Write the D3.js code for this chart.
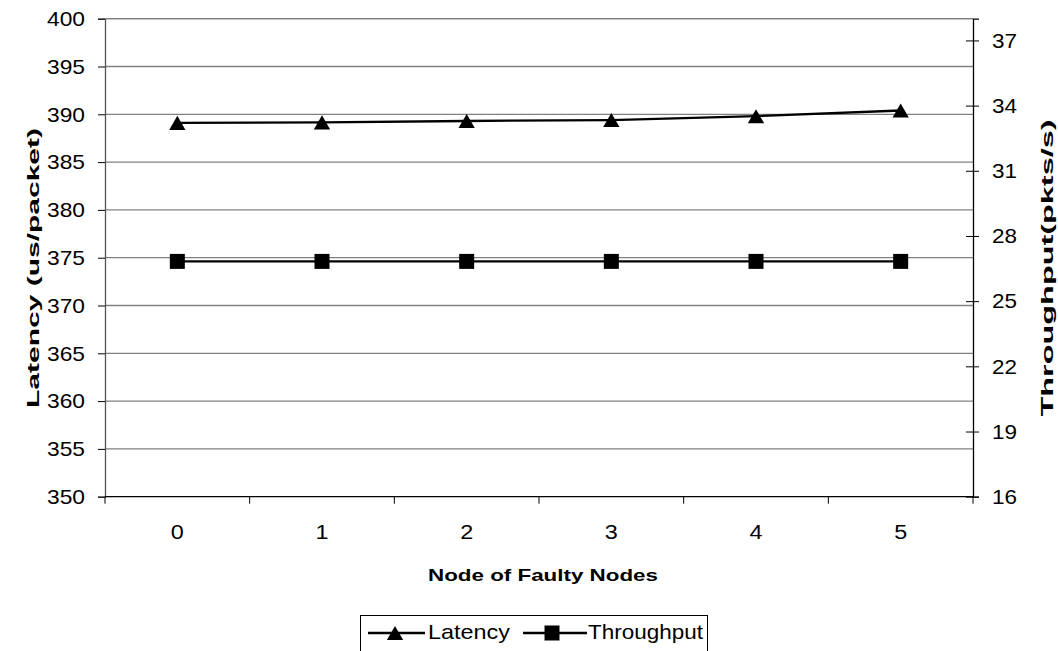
<!DOCTYPE html>
<html>
<head>
<meta charset="utf-8">
<script src="https://cdn.jsdelivr.net/npm/d3@7"></script>
<style>
  html, body { margin: 0; padding: 0; background: #fff; }
  svg { display: block; font-family: "Liberation Sans", Arial, sans-serif; }
</style>
</head>
<body>
<svg id="chart" width="1058" height="651"></svg>
<script>
// Number of faulty nodes on the x axis
const categories = ["0", "1", "2", "3", "4", "5"];
// Latency in us/packet (left axis)
const latency = [389.1, 389.15, 389.3, 389.4, 389.8, 390.4];
// Throughput in pkts/s (right axis)
const throughput = [26.83, 26.83, 26.83, 26.83, 26.83, 26.83];
// Axis tick values
const leftTicks = [350, 355, 360, 365, 370, 375, 380, 385, 390, 395, 400];
const rightTicks = [16, 19, 22, 25, 28, 31, 34, 37];

const FONT = "Liberation Sans, Arial, sans-serif";
const svg = d3.select("#chart");
const plot = { left: 105, right: 973, top: 18.7, bottom: 496.7 };

const x = d3.scaleBand().domain(categories).range([plot.left, plot.right]);
const yL = d3.scaleLinear().domain([350, 400]).range([plot.bottom, plot.top]);
const yR = d3.scaleLinear().domain([16, 38]).range([plot.bottom, plot.top]);

// horizontal gridlines
svg.append("g").selectAll("line").data(leftTicks.filter(d => d > 350)).join("line")
  .attr("x1", plot.left).attr("x2", plot.right)
  .attr("y1", d => yL(d)).attr("y2", d => yL(d))
  .attr("stroke", "#808080").attr("stroke-width", 1.3);

// left axis
const gL = svg.append("g").attr("transform", `translate(${plot.left},0)`)
  .call(d3.axisLeft(yL).tickValues(leftTicks).tickSize(7).tickPadding(13));
gL.select(".domain").attr("stroke", "#555").attr("stroke-width", 1.3);
gL.selectAll(".tick line").attr("stroke", "#000");
gL.selectAll("text").attr("font-size", 21).attr("fill", "#000").attr("font-family", FONT)
  .attr("textLength", 38).attr("lengthAdjust", "spacingAndGlyphs");

// right axis (ticks cross the axis line)
const gR = svg.append("g").attr("transform", `translate(${plot.right},0)`)
  .call(d3.axisRight(yR).tickValues(rightTicks).tickSize(6).tickPadding(13));
gR.select(".domain").attr("stroke", "#000").attr("stroke-width", 1.3);
gR.selectAll(".tick line").attr("x1", -7).attr("x2", 6).attr("stroke", "#000");
gR.selectAll("text").attr("font-size", 21).attr("fill", "#000").attr("font-family", FONT)
  .attr("textLength", 25).attr("lengthAdjust", "spacingAndGlyphs");

// bottom axis with ticks at category boundaries
const gB = svg.append("g").attr("transform", `translate(0,${plot.bottom})`);
gB.append("line").attr("x1", plot.left).attr("x2", plot.right)
  .attr("stroke", "#000").attr("stroke-width", 1.3);
const bounds = categories.map(c => x(c)).concat([x(categories[categories.length - 1]) + x.bandwidth()]);
gB.selectAll("line.tk").data(bounds).join("line").attr("class", "tk")
  .attr("x1", d => d).attr("x2", d => d).attr("y1", 0).attr("y2", 7)
  .attr("stroke", "#000");
gB.selectAll("text").data(categories).join("text")
  .attr("x", d => x(d) + x.bandwidth() / 2).attr("y", 42.5)
  .attr("text-anchor", "middle").attr("font-size", 20)
  .attr("textLength", 13).attr("lengthAdjust", "spacingAndGlyphs").text(d => d);

// top border
svg.append("line").attr("x1", plot.left).attr("x2", plot.right)
  .attr("y1", plot.top).attr("y2", plot.top).attr("stroke", "#808080").attr("stroke-width", 1.3);

const cx = d => x(d) + x.bandwidth() / 2;
const tri = d3.symbol().type(d3.symbolTriangle).size(115);
const triShift = Math.sqrt(115 / (Math.sqrt(3) * 3)) / 2;

// throughput series
const tpData = categories.map((c, i) => ({ c, v: throughput[i] }));
svg.append("path").datum(tpData)
  .attr("d", d3.line().x(d => cx(d.c)).y(d => yR(d.v)))
  .attr("fill", "none").attr("stroke", "#000").attr("stroke-width", 2.3);
svg.append("g").selectAll("rect").data(tpData).join("rect")
  .attr("x", d => cx(d.c) - 7.5).attr("y", d => yR(d.v) - 7.5)
  .attr("width", 15).attr("height", 15).attr("fill", "#000");

// latency series
const latData = categories.map((c, i) => ({ c, v: latency[i] }));
svg.append("path").datum(latData)
  .attr("d", d3.line().x(d => cx(d.c)).y(d => yL(d.v)))
  .attr("fill", "none").attr("stroke", "#000").attr("stroke-width", 2.3);
svg.append("g").selectAll("path").data(latData).join("path")
  .attr("d", tri)
  .attr("transform", d => `translate(${cx(d.c)},${yL(d.v) + triShift})`)
  .attr("fill", "#000");

// axis titles
svg.append("text")
  .attr("transform", `translate(39,268) rotate(-90)`)
  .attr("text-anchor", "middle").attr("font-weight", "bold").attr("font-size", 17)
  .attr("textLength", 280).attr("lengthAdjust", "spacingAndGlyphs")
  .text("Latency (us/packet)");
svg.append("text")
  .attr("transform", `translate(1053,268) rotate(-90)`)
  .attr("text-anchor", "middle").attr("font-weight", "bold").attr("font-size", 16)
  .attr("textLength", 297).attr("lengthAdjust", "spacingAndGlyphs")
  .text("Throughput(pkts/s)");
svg.append("text")
  .attr("x", 543).attr("y", 580.5)
  .attr("text-anchor", "middle").attr("font-weight", "bold").attr("font-size", 17)
  .attr("textLength", 230).attr("lengthAdjust", "spacingAndGlyphs")
  .text("Node of Faulty Nodes");

// legend
const lg = svg.append("g");
lg.append("rect").attr("x", 360.5).attr("y", 615.5).attr("width", 347).attr("height", 50)
  .attr("fill", "#fff").attr("stroke", "#000").attr("stroke-width", 1);
const ly = 633;
lg.append("line").attr("x1", 368).attr("x2", 425).attr("y1", ly).attr("y2", ly)
  .attr("stroke", "#000").attr("stroke-width", 2.3);
lg.append("path").attr("d", tri).attr("transform", `translate(395,${ly + triShift})`).attr("fill", "#000");
lg.append("text").attr("x", 428).attr("y", 638.5).attr("font-size", 21)
  .attr("textLength", 82).attr("lengthAdjust", "spacingAndGlyphs").text("Latency");
lg.append("line").attr("x1", 523).attr("x2", 587).attr("y1", ly).attr("y2", ly)
  .attr("stroke", "#000").attr("stroke-width", 2.3);
lg.append("rect").attr("x", 552 - 7.5).attr("y", ly - 7.5).attr("width", 15).attr("height", 15).attr("fill", "#000");
lg.append("text").attr("x", 588).attr("y", 638.5).attr("font-size", 21)
  .attr("textLength", 115).attr("lengthAdjust", "spacingAndGlyphs").text("Throughput");
</script>
</body>
</html>
